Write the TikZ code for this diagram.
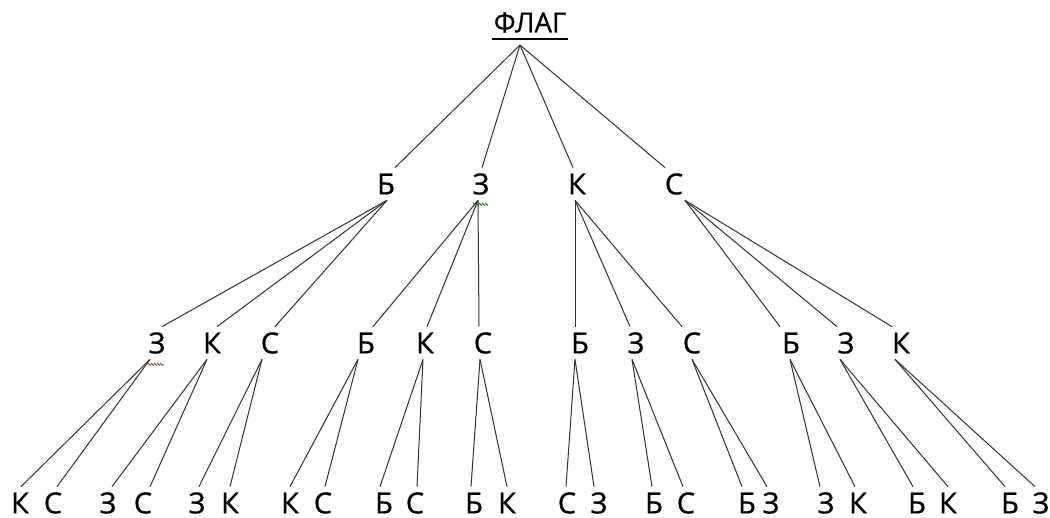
\documentclass[tikz,border=0pt]{standalone}
\usepackage{fontspec}
\setmainfont{Open Sans}
\newfontfamily\lettfont{Open Sans}[FakeBold=0.7]
\usetikzlibrary{decorations.pathmorphing}
\begin{document}
\begin{tikzpicture}[x=1pt,y=-1pt,
  letter/.style={font=\lettfont\fontsize{29}{29}\selectfont, inner sep=0pt, outer sep=6pt,
    text height=20.7pt, text depth=0pt, anchor=center},
  edge/.style={line width=1pt, black!80},
  squiggle/.style={line width=0.6pt, decorate,
    decoration={zigzag, amplitude=1.1pt, segment length=3pt}}]
\useasboundingbox[fill=white] (0,0) rectangle (1050,517);

% root word
\node[letter, font=\lettfont\fontsize{27.5}{27.5}\selectfont, text height=19.5pt] (root) at (530,22.5) {ФЛАГ};
\draw[line width=1.1pt] (492,39) -- (568,39);
\coordinate (rootpt) at (520,45);

% first choice
\node[letter] (b1) at (386,184) {Б};
\node[letter] (z1) at (481,184) {З};
\node[letter] (k1) at (577,184) {К};
\node[letter] (s1) at (674,184) {С};

% second choice
\node[letter] (bz) at (157,343) {З};
\node[letter] (bk) at (212,343) {К};
\node[letter] (bs) at (270,343) {С};
\node[letter] (zb) at (366,343) {Б};
\node[letter] (zk) at (425,343) {К};
\node[letter] (zs) at (483,343) {С};
\node[letter] (kb) at (580,343) {Б};
\node[letter] (kz) at (636,343) {З};
\node[letter] (ks) at (692,343) {С};
\node[letter] (sb) at (791,343) {Б};
\node[letter] (sz) at (846,343) {З};
\node[letter] (sk) at (901,343) {К};

% third choice
\node[letter] (bzk) at (20,503) {К};
\node[letter] (bzs) at (53,503) {С};
\node[letter] (bkz) at (108,503) {З};
\node[letter] (bks) at (143,503) {С};
\node[letter] (bsz) at (197,503) {З};
\node[letter] (bsk) at (230,503) {К};
\node[letter] (zbk) at (290,503) {К};
\node[letter] (zbs) at (323,503) {С};
\node[letter] (zkb) at (384,503) {Б};
\node[letter] (zks) at (415,503) {С};
\node[letter] (zsb) at (474,503) {Б};
\node[letter] (zsk) at (507,503) {К};
\node[letter] (kbs) at (567,503) {С};
\node[letter] (kbz) at (599,503) {З};
\node[letter] (kzb) at (654,503) {Б};
\node[letter] (kzs) at (686,503) {С};
\node[letter] (ksb) at (747,503) {Б};
\node[letter] (ksz) at (771,503) {З};
\node[letter] (sbz) at (826,503) {З};
\node[letter] (sbk) at (858,503) {К};
\node[letter] (szb) at (917,503) {Б};
\node[letter] (szk) at (948,503) {К};
\node[letter] (skb) at (1010,503) {Б};
\node[letter] (skz) at (1041,503) {З};

% root to first level
\draw[edge] (rootpt) -- ([xshift=9pt]b1.north);
\draw[edge] (rootpt) -- ([xshift=1pt]z1.north);
\draw[edge] (rootpt) -- ([xshift=-4pt]k1.north);
\draw[edge] (rootpt) -- ([xshift=-9pt]s1.north);

% first to second level
\draw[edge] ([xshift=1pt]b1.south) -- ([xshift=5pt]bz.north);
\draw[edge] ([xshift=1pt]b1.south) -- ([xshift=5pt]bk.north);
\draw[edge] ([xshift=1pt]b1.south) -- ([xshift=5pt]bs.north);
\draw[edge] ([xshift=-3pt]z1.south) -- ([xshift=7pt]zb.north);
\draw[edge] ([xshift=-3pt]z1.south) -- ([xshift=2pt]zk.north);
\draw[edge] ([xshift=-3pt]z1.south) -- ([xshift=-4pt]zs.north);
\draw[edge] ([xshift=-2pt]k1.south) -- ([xshift=-5pt]kb.north);
\draw[edge] ([xshift=-2pt]k1.south) -- ([xshift=-6pt]kz.north);
\draw[edge] ([xshift=-2pt]k1.south) -- ([xshift=-10pt]ks.north);
\draw[edge] ([xshift=11pt]s1.south) -- ([xshift=-11pt]sb.north);
\draw[edge] ([xshift=11pt]s1.south) -- ([xshift=-9pt]sz.north);
\draw[edge] ([xshift=11pt]s1.south) -- ([xshift=-9pt]sk.north);

% second to third level
\draw[edge] ([xshift=-7pt]bz.south) -- ([xshift=1pt]bzk.north);
\draw[edge] ([xshift=-7pt]bz.south) -- ([xshift=4pt]bzs.north);
\draw[edge] ([xshift=-5pt]bk.south) -- ([xshift=4pt]bkz.north);
\draw[edge] ([xshift=-5pt]bk.south) -- ([xshift=7pt]bks.north);
\draw[edge] ([xshift=-8pt]bs.south) -- ([xshift=2pt]bsz.north);
\draw[edge] ([xshift=-8pt]bs.south) -- ([xshift=0pt]bsk.north);
\draw[edge] ([xshift=-8pt]zb.south) -- ([xshift=0pt]zbk.north);
\draw[edge] ([xshift=-8pt]zb.south) -- ([xshift=2pt]zbs.north);
\draw[edge] ([xshift=-2pt]zk.south) -- ([xshift=-4pt]zkb.north);
\draw[edge] ([xshift=-2pt]zk.south) -- ([xshift=2pt]zks.north);
\draw[edge] ([xshift=-3pt]zs.south) -- ([xshift=-3pt]zsb.north);
\draw[edge] ([xshift=-3pt]zs.south) -- ([xshift=0pt]zsk.north);
\draw[edge] ([xshift=-5pt]kb.south) -- ([xshift=-1pt]kbs.north);
\draw[edge] ([xshift=-5pt]kb.south) -- ([xshift=-5pt]kbz.north);
\draw[edge] ([xshift=-4pt]kz.south) -- ([xshift=-2pt]kzb.north);
\draw[edge] ([xshift=-4pt]kz.south) -- ([xshift=-3pt]kzs.north);
\draw[edge] ([xshift=0pt]ks.south) -- ([xshift=-5pt]ksb.north);
\draw[edge] ([xshift=0pt]ks.south) -- ([xshift=-4pt]ksz.north);
\draw[edge] ([xshift=-1pt]sb.south) -- ([xshift=-6pt]sbz.north);
\draw[edge] ([xshift=-1pt]sb.south) -- ([xshift=-3pt]sbk.north);
\draw[edge] ([xshift=-6pt]sz.south) -- ([xshift=-4pt]szb.north);
\draw[edge] ([xshift=-6pt]sz.south) -- ([xshift=0pt]szk.north);
\draw[edge] ([xshift=-6pt]sk.south) -- ([xshift=-5pt]skb.north);
\draw[edge] ([xshift=-6pt]sk.south) -- ([xshift=-6pt]skz.north);

% proofing marks under two letters
\draw[squiggle, green!45!black] ([xshift=-8pt,yshift=-4pt]z1.south) -- ([xshift=7pt,yshift=-4pt]z1.south);
\draw[squiggle, brown!60!black] ([xshift=-9pt,yshift=-5pt]bz.south) -- ([xshift=7pt,yshift=-5pt]bz.south);
\end{tikzpicture}
\end{document}
